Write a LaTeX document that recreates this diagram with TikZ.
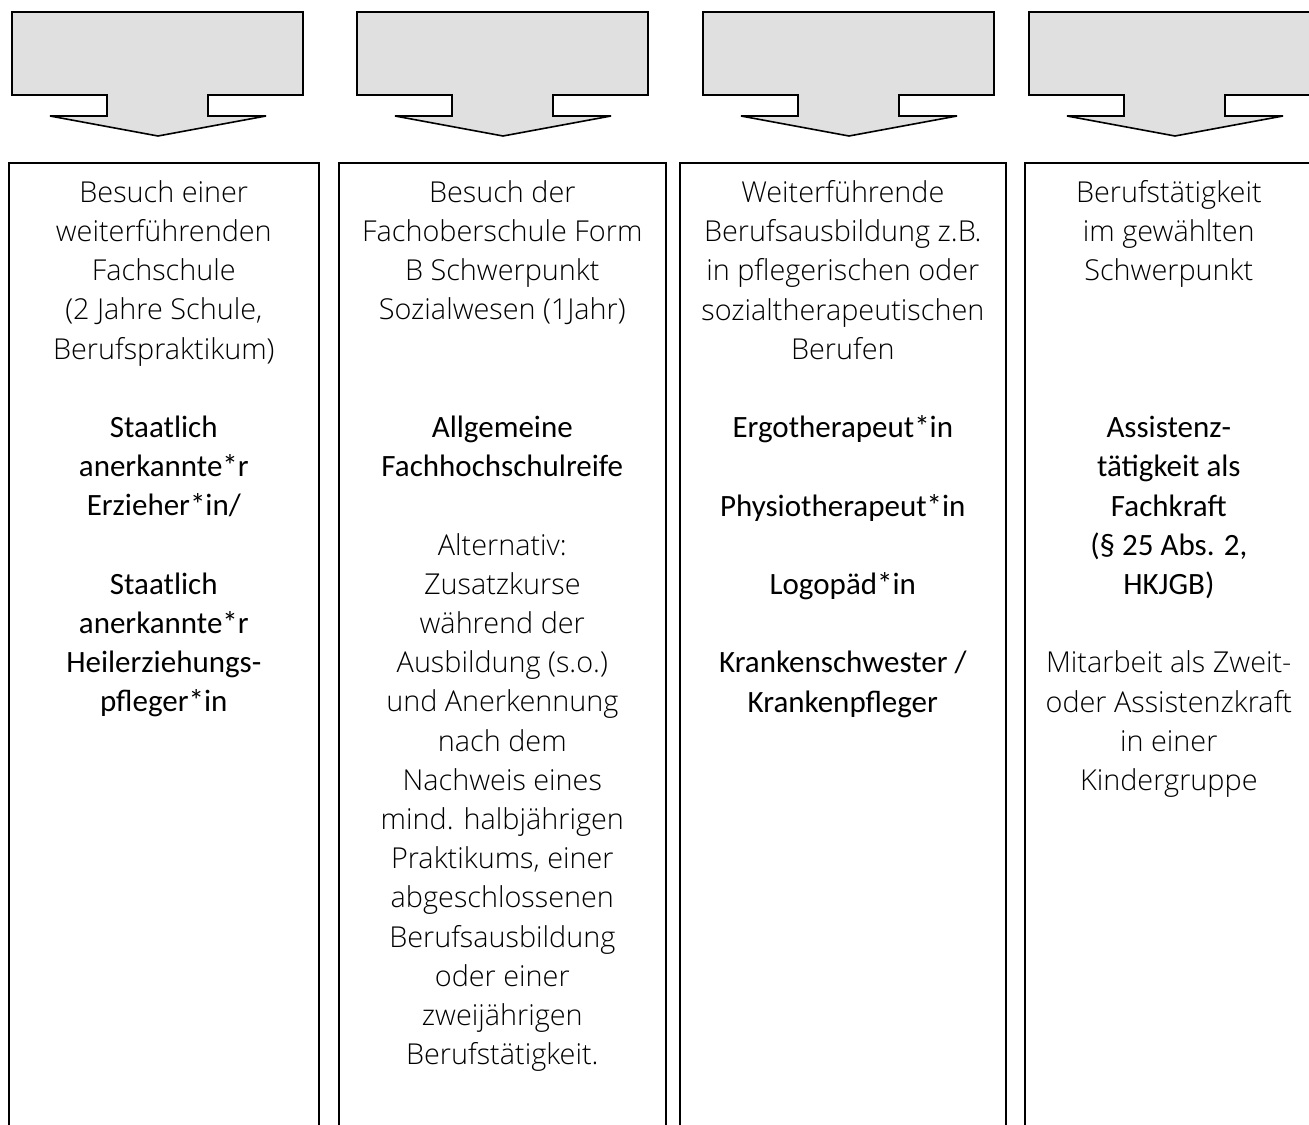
\documentclass[tikz,border=0pt]{standalone}
\usepackage{fontspec}
\setmainfont{Carlito}
\newfontfamily\lightfont{Open Sans Light}
\usetikzlibrary{positioning}
\definecolor{calloutgray}{RGB}{224,224,224}
\tikzset{
    colbox/.style={
        rectangle,
        draw=black,
        line width=0.8pt, % Rahmen
        anchor=north west,
        minimum height=500pt,
        inner sep=0
    },
    coltext/.style={
        align=center,
        inner sep=0,
        font=\lightfont\fontsize{14.4}{19.6}\selectfont
    },
    callout/.style={
        draw=black,
        fill=calloutgray, % hellgrau
        line width=0.8pt,
        line join=miter
    }
}
% Abschluss-Zeilen in Carlito
\newcommand{\titel}[1]{{\rmfamily\fontsize{15.5}{19.6}\selectfont #1}}
% Pfeil nach unten, #1 = linke Kante
\newcommand{\downcallout}[1]{
    \draw[callout] (#1,12) -- ++(291,0) -- ++(0,83) -- ++(-95,0) -- ++(0,21)
        -- ++(58,0) -- ++(-108,20) -- ++(-108,-20) -- ++(57,0) -- ++(0,-21)
        -- ++(-95,0) -- cycle;
}

\begin{document}
\begin{tikzpicture}[x=0.5pt, y=-0.5pt]
    \useasboundingbox (0,0) rectangle (1309,1124);
    \clip (0,0) rectangle (1309,1124);
    % Pfeile oben
    \downcallout{12}
    \downcallout{357}
    \downcallout{703}
    \downcallout{1029}
    % Spalten
    \node[colbox, minimum width=155pt] (box1) at (8,162) {};
    \node[colbox, minimum width=163.5pt] (box2) at (338,162) {};
    \node[colbox, minimum width=163pt] (box3) at (679,162) {};
    \node[colbox, minimum width=144pt] (box4) at (1024,162) {};
    % Texte
    \node[coltext, below=9pt of box1.north] (txt1) {
        Besuch einer\\ weiterführenden\\ Fachschule\\ (2 Jahre Schule,\\ Berufspraktikum)\\[19.6pt]
        \titel{Staatlich}\\ \titel{anerkannte*r}\\ \titel{Erzieher*in/}\\[19.6pt]
        \titel{Staatlich}\\ \titel{anerkannte*r}\\ \titel{Heilerziehungs-}\\ \titel{pfleger*in}
    };
    \node[coltext, below=9pt of box2.north] (txt2) {
        Besuch der\\ Fachoberschule Form\\ B Schwerpunkt\\ Sozialwesen (1Jahr)\\[39.2pt]
        \titel{Allgemeine}\\ \titel{Fachhochschulreife}\\[19.6pt]
        Alternativ:\\ Zusatzkurse\\ während der\\ Ausbildung (s.o.)\\ und Anerkennung\\
        nach dem\\ Nachweis eines\\ mind. halbjährigen\\ Praktikums, einer\\ abgeschlossenen\\
        Berufsausbildung\\ oder einer\\ zweijährigen\\ Berufstätigkeit.
    };
    \node[coltext, below=9pt of box3.north] (txt3) {
        Weiterführende\\ Berufsausbildung z.B.\\ in pflegerischen oder\\ sozialtherapeutischen\\ Berufen\\[19.6pt]
        \titel{Ergotherapeut*in}\\[19.6pt]
        \titel{Physiotherapeut*in}\\[19.6pt]
        \titel{Logopäd*in}\\[19.6pt]
        \titel{Krankenschwester /}\\ \titel{Krankenpfleger}
    };
    \node[coltext, below=9pt of box4.north] (txt4) {
        Berufstätigkeit\\ im gewählten\\ Schwerpunkt\\[58.8pt]
        \titel{Assistenz-}\\ \titel{tätigkeit als}\\ \titel{Fachkraft}\\ \titel{(§ 25 Abs. 2,}\\ \titel{HKJGB)}\\[19.6pt]
        Mitarbeit als Zweit-\\ oder Assistenzkraft\\ in einer\\ Kindergruppe
    };
\end{tikzpicture}
\end{document}
